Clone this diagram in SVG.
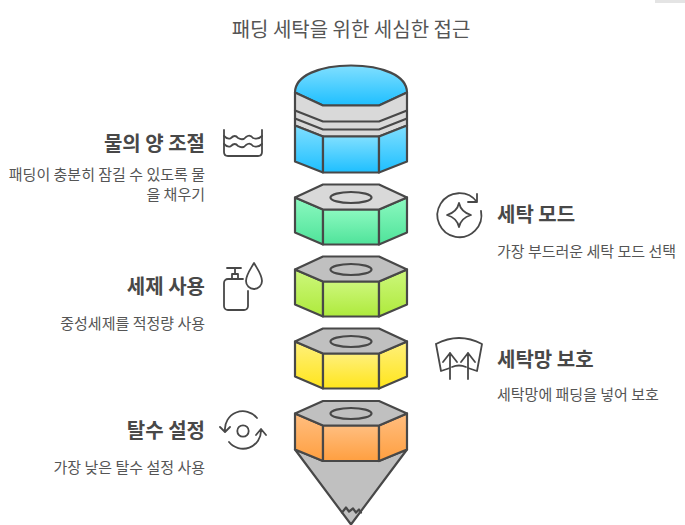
<svg xmlns="http://www.w3.org/2000/svg" width="685" height="525" viewBox="0 0 685 525">
<style>
text{font-family:"Noto Sans CJK KR","Noto Sans",sans-serif}
.title{font-size:20px;fill:#555;text-anchor:middle}
.h{font-size:20px;font-weight:700;fill:#484848}
.d{font-size:15px;fill:#555}
.e{text-anchor:end}
.s{stroke:#484848;stroke-width:2.2;stroke-linejoin:round;stroke-linecap:round}
.top{fill:#d9d9d9}
.dk{fill:#c0c0c0}
.i{fill:none;stroke:#484848;stroke-width:1.8;stroke-linecap:round;stroke-linejoin:round}
</style>
<defs>
<linearGradient id="b" x1="0" y1="0" x2="0" y2="1"><stop offset="0" stop-color="#80dfff"/><stop offset="1" stop-color="#1ebfff"/></linearGradient>
<linearGradient id="g" x1="0" y1="0" x2="0" y2="1"><stop offset="0" stop-color="#8cf9c0"/><stop offset="1" stop-color="#4fe39a"/></linearGradient>
<linearGradient id="l" x1="0" y1="0" x2="0" y2="1"><stop offset="0" stop-color="#cdf77c"/><stop offset="1" stop-color="#aeea3c"/></linearGradient>
<linearGradient id="y" x1="0" y1="0" x2="0" y2="1"><stop offset="0" stop-color="#fff07c"/><stop offset="1" stop-color="#ffe51c"/></linearGradient>
<linearGradient id="o" x1="0" y1="0" x2="0" y2="1"><stop offset="0" stop-color="#ffbe80"/><stop offset="1" stop-color="#ff9f40"/></linearGradient>
</defs>
<rect x="655" y="0" width="30" height="3" fill="#e4e4e4"/>
<text class="title" x="351" y="37">패딩 세탁을 위한 세심한 접근</text>

<g id="stack-water" transform="translate(0 0.500)">
<path class="s" fill="url(#b)" d="M295 92C295 75 320 65 351 65C382 65 407 75 407 92L379 105H323Z"/>
<path class="s top" d="M295 92L323 105H379L407 92V125L379 136H323L295 125Z"/>
<path class="s" fill="none" d="M295 110L323 121H379L407 110M295 118L323 129H379L407 118"/>
<path class="s" fill="url(#b)" d="M295 125L323 136V172L295 161Z"/>
<path class="s" fill="url(#b)" d="M323 136H379V172H323Z"/>
<path class="s" fill="url(#b)" d="M379 136L407 125V161L379 172Z"/>
</g>
<g id="stack-mode" transform="translate(0 0.500)">
<path class="s" fill="url(#g)" d="M295 197L323 209V244L295 232Z"/>
<path class="s" fill="url(#g)" d="M323 209H379V244H323Z"/>
<path class="s" fill="url(#g)" d="M379 209L407 197V232L379 244Z"/>
<path class="s top" d="M323 184H379L407 197L379 209H323L295 197Z"/>
<ellipse class="s top" cx="351" cy="197" rx="20.500" ry="5.500"/>
</g>
<g id="stack-detergent" transform="translate(0 0.500)">
<path class="s" fill="url(#l)" d="M295 269L323 281V316L295 304Z"/>
<path class="s" fill="url(#l)" d="M323 281H379V316H323Z"/>
<path class="s" fill="url(#l)" d="M379 281L407 269V304L379 316Z"/>
<path class="s dk" d="M323 256H379L407 269L379 281H323L295 269Z"/>
<ellipse class="s dk" cx="351" cy="269" rx="20.500" ry="5.500"/>
</g>
<g id="stack-net" transform="translate(0 0.500)">
<path class="s" fill="url(#y)" d="M295 341L323 353V388L295 376Z"/>
<path class="s" fill="url(#y)" d="M323 353H379V388H323Z"/>
<path class="s" fill="url(#y)" d="M379 353L407 341V376L379 388Z"/>
<path class="s dk" d="M323 328H379L407 341L379 353H323L295 341Z"/>
<ellipse class="s dk" cx="351" cy="341" rx="20.500" ry="5.500"/>
</g>
<g id="stack-spin" transform="translate(0 0.500)">
<path class="s dk" d="M295 449L323 460.500H379L407 449L351 524Z"/>
<path class="s" fill="none" stroke-width="2" d="M342 512L346 507L349 511L353 508L356 512L359 509L361 512"/>
<path class="s" fill="url(#o)" d="M295 413L323 425V460.500L295 449Z"/>
<path class="s" fill="url(#o)" d="M323 425H379V460.500H323Z"/>
<path class="s" fill="url(#o)" d="M379 425L407 413V449L379 460.500Z"/>
<path class="s dk" d="M323 400.500H379L407 413L379 425H323L295 413Z"/>
<ellipse class="s dk" cx="351" cy="413" rx="20.500" ry="5.500"/>
</g>

<g id="node-water">
<text class="h e" x="205" y="151">물의 양 조절</text>
<text class="d e" x="205" y="180">패딩이 충분히 잠길 수 있도록 물</text>
<text class="d e" x="205" y="200">을 채우기</text>
<path class="i" d="M224 130V152Q224 156 228 156H258Q262 156 262 152V130"/>
<path class="i" d="M224 136Q228 140 231 138Q235 134 238 138Q243 141 246 137Q250 134 253 138Q258 140 262 136M224 144Q228 148 231 146Q235 142 238 146Q243 149 246 145Q250 142 253 146Q258 148 262 144"/>
</g>
<g id="node-mode">
<path class="i" d="M477 202A22 22 0 1 0 481 211M477 194V202H468"/>
<path class="i" d="M459 203Q461 212 471 215Q461 218 459 227Q457 218 447 215Q457 212 459 203Z"/>
<text class="h" x="497" y="222">세탁 모드</text>
<text class="d" x="497" y="257">가장 부드러운 세탁 모드 선택</text>
</g>
<g id="node-detergent">
<text class="h e" x="205" y="294">세제 사용</text>
<text class="d e" x="205" y="329">중성세제를 적정량 사용</text>
<path class="i" d="M248 291V306A4 4 0 0 1 244 310H228A4 4 0 0 1 224 306V283A4 4 0 0 1 228 279H243M232 279V274H238V279M235 274V268M227 268H241M254 263C250 270 246 275 246 281A8 8 0 0 0 262 281C262 275 258 270 254 263Z"/>
</g>
<g id="node-net">
<path class="i" d="M436 344Q459 332 482 344L477 371L468 368M450 368L441 371L436 344M452 367Q459 364 466 367"/>
<path class="i" d="M450 379V353M443 362L450 353L457 362M468 379V353M461 362L468 353L475 362"/>
<text class="h" x="497" y="367">세탁망 보호</text>
<text class="d" x="497" y="400">세탁망에 패딩을 넣어 보호</text>
</g>
<g id="node-spin">
<text class="h e" x="205" y="438">탈수 설정</text>
<text class="d e" x="205" y="473">가장 낮은 탈수 설정 사용</text>
<circle class="i" cx="243" cy="431" r="5.700"/>
<path class="i" d="M257 418A18 18 0 0 0 225 431M220 427L225 432L230 427M229 442A18 18 0 0 0 261 430M256 435L261 429L266 435"/>
</g>
<g id="connectors"></g>
</svg>
